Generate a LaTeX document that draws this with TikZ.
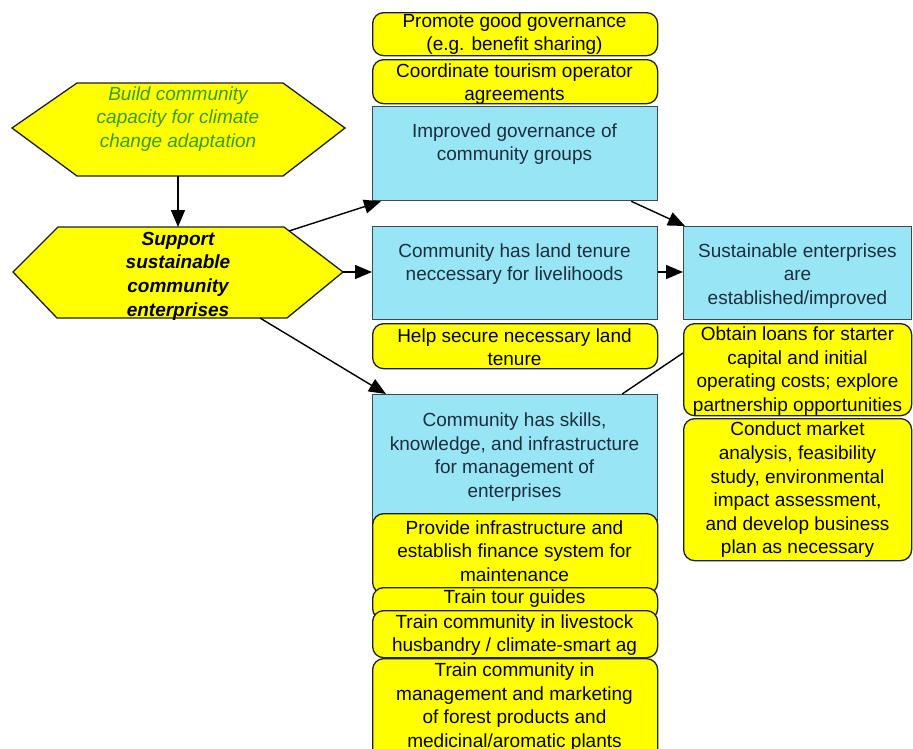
\documentclass[tikz,border=0pt]{standalone}
\usepackage{fontspec}
\setmainfont{Liberation Sans}
\usetikzlibrary{arrows.meta,calc}
\definecolor{hexyellow}{HTML}{FFFF00}
\definecolor{boxblue}{HTML}{98E6F5}
\definecolor{blueedge}{HTML}{3A4A56}
\definecolor{yellowedge}{HTML}{1E1E1E}
\definecolor{goaltext}{HTML}{379A22}
\definecolor{bluetext}{HTML}{1D2D3D}
\begin{document}
\begin{tikzpicture}[x=1pt,y=-1pt,
  lbl/.style={font=\fontsize{19pt}{23.6pt}\selectfont, align=center, inner sep=0pt},
  outcome/.style={draw=blueedge, fill=boxblue, line width=1.3pt, rectangle,
    inner sep=0pt, anchor=north west, minimum width=285pt},
  activity/.style={draw=yellowedge, fill=hexyellow, line width=1.3pt,
    rounded corners=11pt, rectangle, inner sep=0pt, anchor=north west,
    minimum width=285pt},
  hexa/.style={draw=yellowedge, fill=hexyellow, line width=1.3pt},
  link/.style={draw=black, line width=1.4pt, -{Triangle[length=17pt,width=14pt]}},
  plain/.style={draw=black, line width=1.4pt},
]
\useasboundingbox (0,0) rectangle (913,748);
\clip (0,0) rectangle (913,748);
\fill[white] (0,0) rectangle (913,748);

% goal and strategy hexagons
\draw[hexa] (12,128) -- (77,83) -- (283,83) -- (345,128) -- (283,176) -- (77,176) -- cycle;
\node[lbl, text=goaltext, font=\fontsize{19pt}{23.6pt}\selectfont\itshape] (goal) at (178,119)
  {Build community\\capacity for climate\\change adaptation};
\coordinate (goal-s) at (178,176);

\draw[hexa] (13,272) -- (58,227) -- (284,227) -- (343,272) -- (287,318) -- (57,318) -- cycle;
\node[lbl, font=\fontsize{19pt}{23.6pt}\selectfont\bfseries\itshape] (strategy) at (178,276)
  {Support\\sustainable\\community\\enterprises};
\coordinate (strat-n) at (178,227);
\coordinate (strat-ne) at (289,231);
\coordinate (strat-e) at (343,272);
\coordinate (strat-se) at (260,318);

% middle column: governance
\node[activity, minimum height=43pt] (promote) at (372,12) {};
\node[lbl] (promote-t) at (514.5,34) {Promote good governance\\(e.g. benefit sharing)};
\node[activity, minimum height=44pt] (coord) at (372,59) {};
\node[lbl] (coord-t) at (514.5,84) {Coordinate tourism operator\\agreements};
\node[outcome, minimum height=94pt] (gov) at (372,106) {};
\node[lbl, text=bluetext] (gov-t) at (514.5,144) {Improved governance of\\community groups};

% middle column: land tenure
\node[outcome, minimum height=93pt] (land) at (372,226) {};
\node[lbl, text=bluetext] (land-t) at (514.5,264) {Community has land tenure\\neccessary for livelihoods};
\node[activity, minimum height=45pt] (help) at (372,323) {};
\node[lbl] (help-t) at (514.5,347) {Help secure necessary land\\tenure};

% middle column: skills
\node[outcome, minimum height=136pt] (skills) at (372,394) {};
\node[lbl, text=bluetext] (skills-t) at (514.5,457)
  {Community has skills,\\knowledge, and infrastructure\\for management of\\enterprises};
\node[activity, minimum height=80pt] (provide) at (372,513) {};
\node[lbl] (provide-t) at (514.5,551)
  {Provide infrastructure and\\establish finance system for\\maintenance};
\node[activity, minimum height=32pt] (tour) at (372,587) {};
\node[lbl] (tour-t) at (514.5,599) {Train tour guides};
\node[activity, minimum height=47pt] (livestock) at (372,610) {};
\node[lbl] (livestock-t) at (514.5,635)
  {Train community in livestock\\husbandry / climate-smart ag};
\node[activity, minimum height=110pt] (mgmt) at (372,658) {};
\node[lbl] (mgmt-t) at (514.5,707)
  {Train community in\\management and marketing\\of forest products and\\medicinal/aromatic plants};

% right column
\node[outcome, minimum width=228pt, minimum height=93pt] (se) at (683,226) {};
\node[lbl, text=bluetext] (se-t) at (797.5,276)
  {Sustainable enterprises\\are\\established/improved};

% skills link runs behind the loans box
\draw[plain] (skills.north) ++(107,0) coordinate (skills-ne) -- (683,353) coordinate (loans-w);

\node[activity, minimum width=228pt, minimum height=92pt] (loans) at (683,323) {};
\node[lbl] (loans-t) at (797.5,371)
  {Obtain loans for starter\\capital and initial\\operating costs; explore\\partnership opportunities};
\node[activity, minimum width=228pt, minimum height=142pt] (market) at (683,418) {};
\node[lbl] (market-t) at (797.5,490)
  {Conduct market\\analysis, feasibility\\study, environmental\\impact assessment,\\and develop business\\plan as necessary};

% connectors
\draw[link] (goal-s) -- (strat-n);
\draw[link] (strat-ne) -- ($(gov.south west)+(9,0)$);
\draw[link] (strat-e) -- (land.west |- strat-e);
\draw[link] (strat-se) -- ($(skills.north west)+(14,0)$);
\draw[link] ($(gov.south east)+(-27,0)$) -- ($(se.north west)+(2,0)$);
\draw[link] (land.east |- strat-e) -- (se.west |- strat-e);
\end{tikzpicture}
\end{document}
